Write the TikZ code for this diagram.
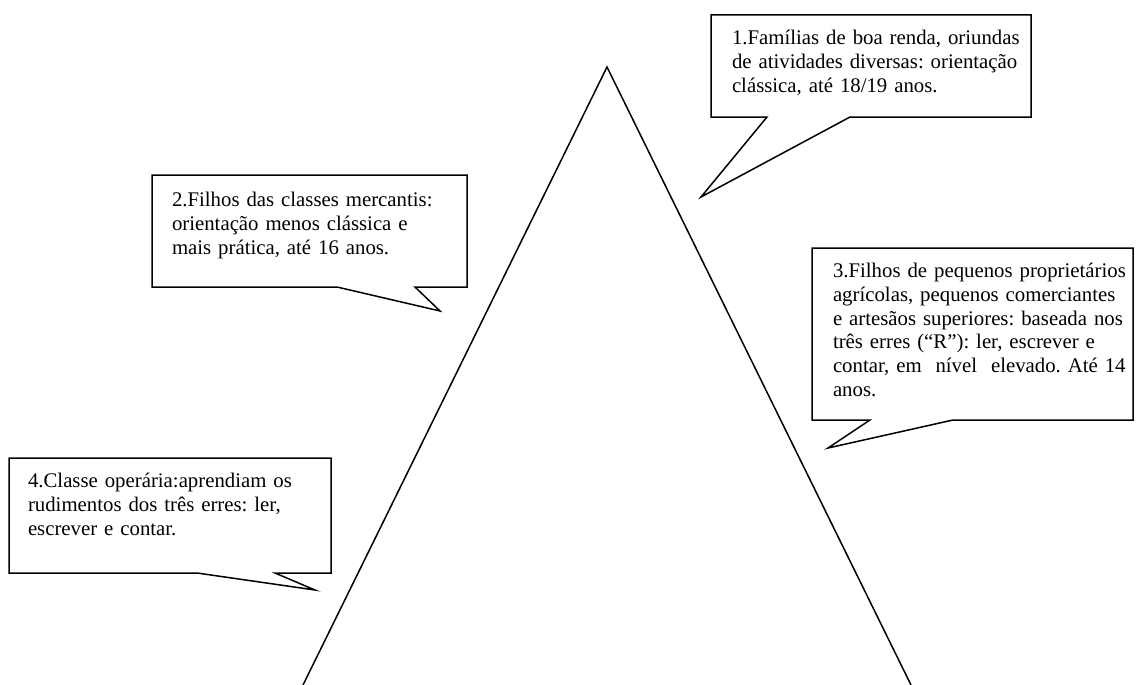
\documentclass[tikz,border=0pt]{standalone}
\usepackage{fontspec}
\setmainfont{Liberation Serif}
\usetikzlibrary{positioning}
\usetikzlibrary{calc}

\begin{document}
\begin{tikzpicture}[x=1pt,y=-1pt,line width=1.5pt]
	\tikzstyle{box}=[anchor=north west,inner sep=0pt,outer sep=0pt,minimum width=320pt]
	\tikzstyle{txt}=[inner sep=0pt,outer sep=0pt,text width=305pt,align=left,
		font=\fontsize{20.8}{23.8}\selectfont\frenchspacing]
	\tikzstyle{balloon}=[draw,line width=1.5pt,line join=miter]
	
	\useasboundingbox (0,0) rectangle (1138,685);
	
	% pyramid
	\coordinate (top)   at (607,67);
	\coordinate (left)  at (303,685);
	\coordinate (right) at (911,685);
	\draw (left) -- (top) -- (right);
	
	% boxes
	\node[box,minimum height=102pt]                       (B_1) at (711,15)  {};
	\node[box,minimum height=112pt,minimum width=315pt]   (B_2) at (152,175) {};
	\node[box,minimum height=172pt,minimum width=321pt]   (B_3) at (812,248) {};
	\node[box,minimum height=115pt,minimum width=322pt]   (B_4) at (9,458)   {};
	
	% tips
	\coordinate (P_1) at (701,197);
	\coordinate (P_2) at (440,311);
	\coordinate (P_3) at (828,448);
	\coordinate (P_4) at (315,590);
	
	\node[txt,below right=15pt and 21pt of B_1.north west] (T_1)
		{1.Famílias de boa renda, oriundas\\de atividades diversas: orientação\\clássica, até 18/19 anos.};
	\node[txt,below right=17pt and 20pt of B_2.north west] (T_2)
		{2.Filhos das classes mercantis:\\orientação menos clássica e\\mais prática, até 16 anos.};
	\node[txt,below right=15pt and 21pt of B_3.north west] (T_3)
		{3.Filhos de pequenos proprietários\\agrícolas, pequenos comerciantes\\e artesãos superiores: baseada nos\\três erres (“R”): ler, escrever e\\contar, em~ nível~ elevado. Até 14\\anos.};
	\node[txt,below right=15pt and 19pt of B_4.north west] (T_4)
		{4.Classe operária:aprendiam os\\rudimentos dos três erres: ler,\\escrever e contar.};
	
	\draw[balloon] (B_1.north west) -- (B_1.north east) -- (B_1.south east)
		-- ([xshift=139pt]B_1.south west) -- (P_1) -- ([xshift=56pt]B_1.south west)
		-- (B_1.south west) -- cycle;
	\draw[balloon] (B_2.north west) -- (B_2.north east) -- (B_2.south east)
		-- ([xshift=263pt]B_2.south west) -- (P_2) -- ([xshift=185pt]B_2.south west)
		-- (B_2.south west) -- cycle;
	\draw[balloon] (B_3.north west) -- (B_3.north east) -- (B_3.south east)
		-- ([xshift=141pt]B_3.south west) -- (P_3) -- ([xshift=58pt]B_3.south west)
		-- (B_3.south west) -- cycle;
	\draw[balloon] (B_4.north west) -- (B_4.north east) -- (B_4.south east)
		-- ([xshift=266pt]B_4.south west) -- (P_4) -- ([xshift=188pt]B_4.south west)
		-- (B_4.south west) -- cycle;
\end{tikzpicture}
\end{document}
